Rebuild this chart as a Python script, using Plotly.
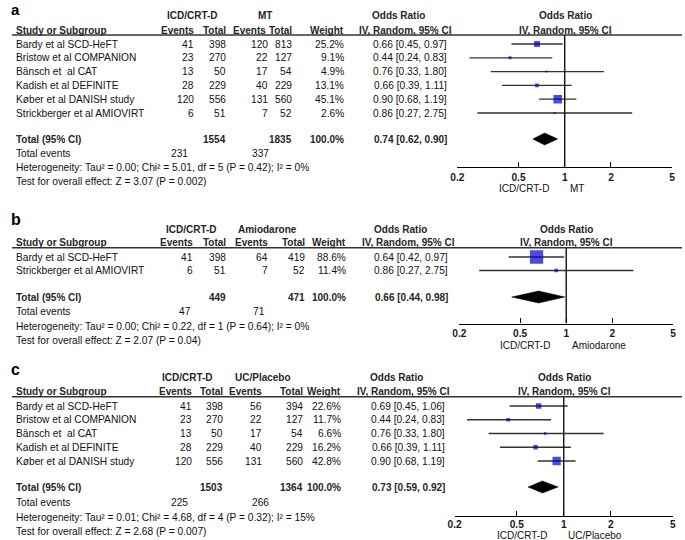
import math
import plotly.graph_objects as go

W, H = 685, 540
FONT = "Liberation Sans, Arial, Helvetica, sans-serif"

# ------------------------------------------------------------------ data
panel_labels = ["a", "b", "c"]
comparators = ["MT", "Amiodarone", "UC/Placebo"]

a_study = ["Bardy et al SCD-HeFT", "Bristow et al COMPANION", "Bänsch et\u00a0 al CAT",
           "Kadish et al DEFINITE", "Køber et al DANISH study", "Strickberger et al AMIOVIRT"]
a_icd_events = [41, 23, 13, 28, 120, 6]
a_icd_total = [398, 270, 50, 229, 556, 51]
a_ctl_events = [120, 22, 17, 40, 131, 7]
a_ctl_total = [813, 127, 54, 229, 560, 52]
a_weight = [25.2, 9.1, 4.9, 13.1, 45.1, 2.6]
a_or = [0.66, 0.44, 0.76, 0.66, 0.90, 0.86]
a_lo = [0.45, 0.24, 0.33, 0.39, 0.68, 0.27]
a_hi = [0.97, 0.83, 1.80, 1.11, 1.19, 2.75]

b_study = ["Bardy et al SCD-HeFT", "Strickberger et al AMIOVIRT"]
b_icd_events = [41, 6]
b_icd_total = [398, 51]
b_ctl_events = [64, 7]
b_ctl_total = [419, 52]
b_weight = [88.6, 11.4]
b_or = [0.64, 0.86]
b_lo = [0.42, 0.27]
b_hi = [0.97, 2.75]

c_study = ["Bardy et al SCD-HeFT", "Bristow et al COMPANION", "Bänsch et\u00a0 al CAT",
           "Kadish et al DEFINITE", "Køber et al DANISH study"]
c_icd_events = [41, 23, 13, 28, 120]
c_icd_total = [398, 270, 50, 229, 556]
c_ctl_events = [56, 22, 17, 40, 131]
c_ctl_total = [394, 127, 54, 229, 560]
c_weight = [22.6, 11.7, 6.6, 16.2, 42.8]
c_or = [0.69, 0.44, 0.76, 0.66, 0.90]
c_lo = [0.45, 0.24, 0.33, 0.39, 0.68]
c_hi = [1.06, 0.83, 1.80, 1.11, 1.19]

tot_icd_n = [1554, 449, 1503]
tot_ctl_n = [1835, 471, 1364]
tot_icd_events = [231, 47, 225]
tot_ctl_events = [337, 71, 266]
pooled_or = [0.74, 0.66, 0.73]
pooled_lo = [0.62, 0.44, 0.59]
pooled_hi = [0.90, 0.98, 0.92]
heterogeneity = [
    "Heterogeneity: Tau² = 0.00; Chi² = 5.01, df = 5 (P = 0.42); I² = 0%",
    "Heterogeneity: Tau² = 0.00; Chi² = 0.22, df = 1 (P = 0.64); I² = 0%",
    "Heterogeneity: Tau² = 0.01; Chi² = 4.68, df = 4 (P = 0.32); I² = 15%",
]
overall = [
    "Test for overall effect: Z = 3.07 (P = 0.002)",
    "Test for overall effect: Z = 2.07 (P = 0.04)",
    "Test for overall effect: Z = 2.68 (P = 0.007)",
]
tick_vals = [0.2, 0.5, 1, 2, 5]
tick_labels = ["0.2", "0.5", "1", "2", "5"]

panels = [
    (a_study, a_icd_events, a_icd_total, a_ctl_events, a_ctl_total, a_weight, a_or, a_lo, a_hi),
    (b_study, b_icd_events, b_icd_total, b_ctl_events, b_ctl_total, b_weight, b_or, b_lo, b_hi),
    (c_study, c_icd_events, c_icd_total, c_ctl_events, c_ctl_total, c_weight, c_or, c_lo, c_hi),
]

# ------------------------------------------------------------------ layout geometry (pixels)
geo = [
    dict(top=0, lab=9.8, labsize=15, h1=15.5, h2=30, line=35, p0=44, pitch=13.8, total=139,
         tev=153, het=167, test=181, axis=166.7, axlab=188.5, x0=457, x1=675, stand=1,
         ev1=191, tot1=223, ev2=266, evh2=264, tot2=290, wt=343, ort=448, g1=188, g2=262,
         orh=397, ivh=404, plot=567, te1=185, te2=267, ll=551, rl=570),
    dict(top=200, lab=219.5, labsize=16, h1=229, h2=242.5, line=247.7, p0=257, pitch=13.5,
         total=297, tev=312, het=326, test=340, axis=323.5, axlab=345, x0=459, x1=676, stand=0,
         ev1=190, tot1=223, ev2=266, evh2=266, tot2=303, wt=345, ort=449, g1=187, g2=264,
         orh=399, ivh=407, plot=568, te1=188, te2=263, ll=552, rl=572),
    dict(top=355, lab=369.5, labsize=16, h1=377.5, h2=391.5, line=396.7, p0=406, pitch=13.75,
         total=487, tev=502.5, het=517, test=531.5, axis=516, axlab=535.5, x0=454.3, x1=675.7,
         stand=-1,
         ev1=189, tot1=220, ev2=260, evh2=260, tot2=301, wt=340, ort=445, g1=183, g2=260,
         orh=395, ivh=402, plot=566, te1=185, te2=267, ll=549, rl=568),
]

TXT = "#111111"
BOLD = "#262626"
FS = 10.2
FSB = 10.0

fig = go.Figure()
annotations = []
shapes = []
layout_axes = {}


def ann(text, xpx, y, yref, anchor="left", bold=False, size=None, color=None):
    if size is None:
        size = FSB if bold else FS
    annotations.append(dict(
        text=f"<b>{text}</b>" if bold else text,
        x=xpx / W, xref="paper", y=y, yref=yref,
        xanchor=anchor, yanchor="middle", showarrow=False, borderpad=0,
        font=dict(family=FONT, size=size, color=color or (BOLD if bold else TXT)),
    ))


for k, (data, g) in enumerate(zip(panels, geo)):
    study, ie, it, ce, ct, wt, orr, lo, hi = data
    n = len(study)
    xa, ya = f"x{k + 2}", f"y{k + 2}"
    yref = f"y{k + 2}"

    def u(px, g=g):
        return (px - g["p0"]) / g["pitch"]

    def py(px):
        return 1 - px / H

    rows = list(range(n))
    trow = u(g["total"])

    # ---- table text
    ann(panel_labels[k], 3, py(g["lab"]), "paper", bold=True, size=g["labsize"], color="#000000")
    ann("ICD/CRT-D", g["g1"], py(g["h1"]), "paper", "center", bold=True)
    ann(comparators[k], g["g2"], py(g["h1"]), "paper", "center", bold=True)
    ann("Odds Ratio", g["orh"], py(g["h1"]), "paper", "center", bold=True)
    ann("Odds Ratio", g["plot"], py(g["h1"]), "paper", "center", bold=True)
    ann("Study or Subgroup", 8, py(g["h2"]), "paper", bold=True)
    ann("Events", g["ev1"], py(g["h2"]), "paper", "right", bold=True)
    ann("Total", g["tot1"], py(g["h2"]), "paper", "right", bold=True)
    ann("Events", g["evh2"], py(g["h2"]), "paper", "right", bold=True)
    ann("Total", g["tot2"], py(g["h2"]), "paper", "right", bold=True)
    ann("Weight", g["wt"], py(g["h2"]), "paper", "right", bold=True)
    ann("IV, Random, 95% CI", g["ivh"], py(g["h2"]), "paper", "center", bold=True)
    ann("IV, Random, 95% CI", g["plot"], py(g["h2"]), "paper", "center", bold=True)
    shapes.append(dict(type="line", xref="paper", yref="paper", x0=5 / W, x1=1,
                       y0=py(g["line"]), y1=py(g["line"]),
                       line=dict(color="#333333", width=1.5)))

    for i in rows:
        ann(study[i], 8, i, yref)
        ann(str(ie[i]), g["ev1"], i, yref, "right")
        ann(str(it[i]), g["tot1"], i, yref, "right")
        ann(str(ce[i]), g["ev2"], i, yref, "right")
        ann(str(ct[i]), g["tot2"], i, yref, "right")
        ann(f"{wt[i]:.1f}%", g["wt"], i, yref, "right")
        ann(f"{orr[i]:.2f} [{lo[i]:.2f}, {hi[i]:.2f}]", g["ort"], i, yref, "right")

    ann("Total (95% CI)", 8, trow, yref, bold=True)
    ann(str(tot_icd_n[k]), g["tot1"], trow, yref, "right", bold=True)
    ann(str(tot_ctl_n[k]), g["tot2"], trow, yref, "right", bold=True)
    ann("100.0%", g["wt"], trow, yref, "right", bold=True)
    ann(f"{pooled_or[k]:.2f} [{pooled_lo[k]:.2f}, {pooled_hi[k]:.2f}]", g["ort"], trow, yref,
        "right", bold=True)
    ann("Total events", 8, py(g["tev"]), "paper")
    ann(str(tot_icd_events[k]), g["te1"], py(g["tev"]), "paper", "right")
    ann(str(tot_ctl_events[k]), g["te2"], py(g["tev"]), "paper", "right")
    ann(heterogeneity[k], 8, py(g["het"]), "paper")
    ann(overall[k], 8, py(g["test"]), "paper")
    ann("ICD/CRT-D", g["ll"], py(g["axlab"]), "paper", "right", size=10)
    ann(comparators[k], g["rl"], py(g["axlab"]), "paper", "left", size=10)

    # ---- forest marks
    cx, cy = [], []
    for i in rows:
        cx += [lo[i], hi[i], None]
        cy += [i, i, None]
    fig.add_trace(go.Scatter(x=cx, y=cy, mode="lines", xaxis=xa, yaxis=ya,
                             line=dict(color="#333333", width=1.3), hoverinfo="skip"))
    sizes = [max(2.0, 0.72 * w ** 0.65) for w in wt]
    fig.add_trace(go.Scatter(x=orr, y=rows, mode="markers", xaxis=xa, yaxis=ya,
                             marker=dict(symbol="square", size=sizes, color="#0000CC",
                                         line=dict(width=0))))
    hh = 6 / g["pitch"]
    fig.add_trace(go.Scatter(
        x=[pooled_lo[k], pooled_or[k], pooled_hi[k], pooled_or[k], pooled_lo[k]],
        y=[trow, trow - hh, trow, trow + hh, trow],
        mode="lines", fill="toself", fillcolor="#000000", xaxis=xa, yaxis=ya,
        line=dict(color="#000000", width=0.5)))
    fig.add_trace(go.Scatter(x=[1, 1], y=[u(g["line"]), u(g["axis"])], mode="lines",
                             xaxis=xa, yaxis=ya, line=dict(color="#000000", width=1.3)))

    eps = 1e-4
    layout_axes[f"xaxis{k + 2}"] = dict(
        type="log", domain=[g["x0"] / W, g["x1"] / W],
        range=[math.log10(tick_vals[0]) - eps, math.log10(tick_vals[-1]) + eps],
        anchor=ya, showline=True, linecolor="#000000", linewidth=1.3,
        ticks="inside", ticklen=5, tickwidth=1.3, tickcolor="#000000",
        tickvals=tick_vals, ticktext=[f"<b>{t}</b>" for t in tick_labels],
        tickfont=dict(family=FONT, size=FS, color="#1a1a1a"),
        showgrid=False, zeroline=False, fixedrange=True, ticklabelstandoff=g["stand"],
    )
    layout_axes[f"yaxis{k + 2}"] = dict(
        domain=[1 - g["axis"] / H, 1 - g["top"] / H],
        range=[u(g["axis"]), u(g["top"])], anchor=xa, visible=False, fixedrange=True,
    )

fig.update_layout(
    width=W, height=H, margin=dict(l=0, r=0, t=0, b=0),
    paper_bgcolor="#ffffff", plot_bgcolor="rgba(0,0,0,0)",
    showlegend=False, annotations=annotations, shapes=shapes,
    **layout_axes,
)
fig.write_html("out.html", config={"displayModeBar": False},
               post_script="document.body.style.margin='0';document.body.style.overflow='hidden';")
